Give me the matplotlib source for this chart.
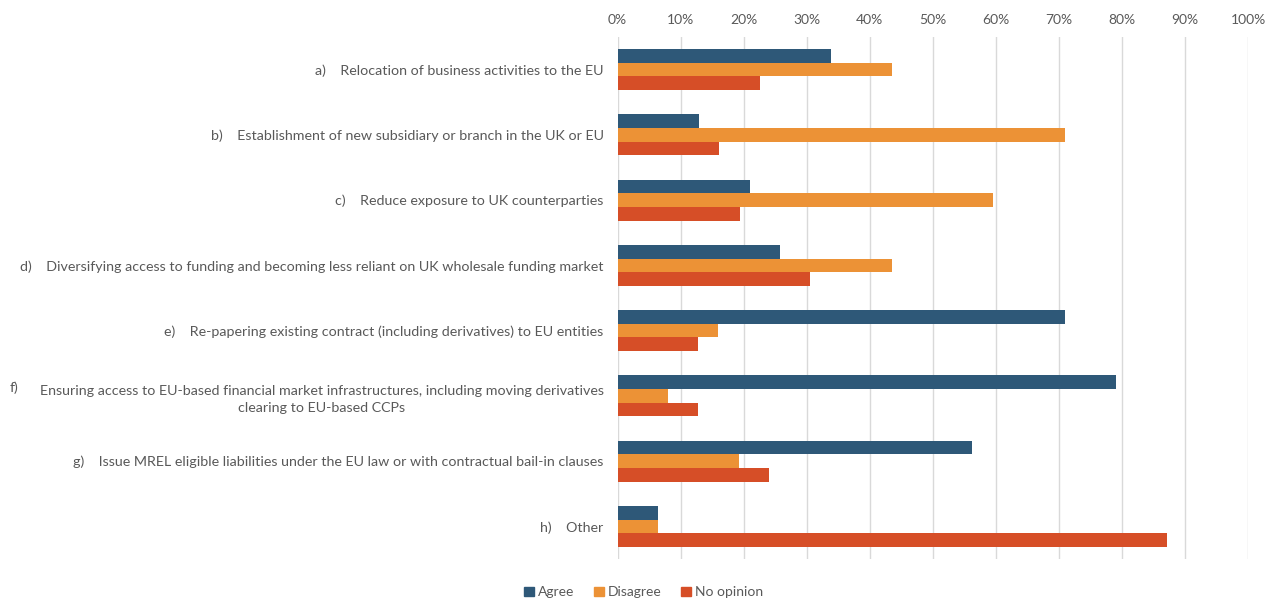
import matplotlib
matplotlib.use("Agg")
import matplotlib.pyplot as plt
import numpy as np
from matplotlib.patches import Patch

categories = [
    "a)    Relocation of business activities to the EU",
    "b)    Establishment of new subsidiary or branch in the UK or EU",
    "c)    Reduce exposure to UK counterparties",
    "d)    Diversifying access to funding and becoming less reliant on UK wholesale funding market",
    "e)    Re-papering existing contract (including derivatives) to EU entities",
    "Ensuring access to EU-based financial market infrastructures, including moving derivatives\nclearing to EU-based CCPs",
    "g)    Issue MREL eligible liabilities under the EU law or with contractual bail-in clauses",
    "h)    Other",
]
agree = [0.338, 0.129, 0.210, 0.258, 0.709, 0.790, 0.563, 0.064]
disagree = [0.435, 0.709, 0.596, 0.435, 0.160, 0.080, 0.192, 0.064]
no_opinion = [0.226, 0.161, 0.194, 0.306, 0.128, 0.128, 0.241, 0.871]
series_names = ["Agree", "Disagree", "No opinion"]
colors = ["#2E5878", "#EC9236", "#D64E27"]
xticks = np.arange(0, 1.01, 0.1)
xticklabels = [f"{int(round(v*100))}%" for v in xticks]

plt.rcParams["font.family"] = ["Lato", "DejaVu Sans"]
fig = plt.figure(figsize=(12.77, 6.06), dpi=100)
ax = fig.add_axes([617.5/1277, 1-559/606, (1248-617.5)/1277, (559-37)/606])

y = np.arange(len(categories))
h = 0.21
for i, (vals, name, c) in enumerate(zip([agree, disagree, no_opinion], series_names, colors)):
    ax.barh(y + (i-1)*h, vals, height=h, color=c, label=name, zorder=3)

ax.set_xlim(0, 1)
ax.set_ylim(len(categories)-0.5, -0.5)
ax.set_xticks(xticks)
ax.set_xticklabels(xticklabels, color="#595959", fontsize=10)
ax.xaxis.tick_top()
ax.tick_params(axis="x", length=0, pad=8)
ax.set_yticks(y)
ax.set_yticklabels(categories, color="#595959", fontsize=10.3, multialignment="center",
                   linespacing=1.55)
ax.tick_params(axis="y", length=0, pad=10)
ax.grid(axis="x", color="#D9D9D9", linewidth=1, zorder=0)
for s in ax.spines.values():
    s.set_visible(False)

fig.text(10/1277, 1-388/606, "f)", color="#595959", fontsize=10.3, va="center", ha="left")

handles = [Patch(color=c, label=n) for c, n in zip(colors, series_names)]
fig.legend(handles=handles, loc="lower center", bbox_to_anchor=(0.504, -0.008), ncol=3,
           frameon=False, fontsize=10, handlelength=0.7, handleheight=0.7,
           handletextpad=0.3, columnspacing=1.4, labelcolor="#595959")

fig.savefig("out.png", dpi=100)
